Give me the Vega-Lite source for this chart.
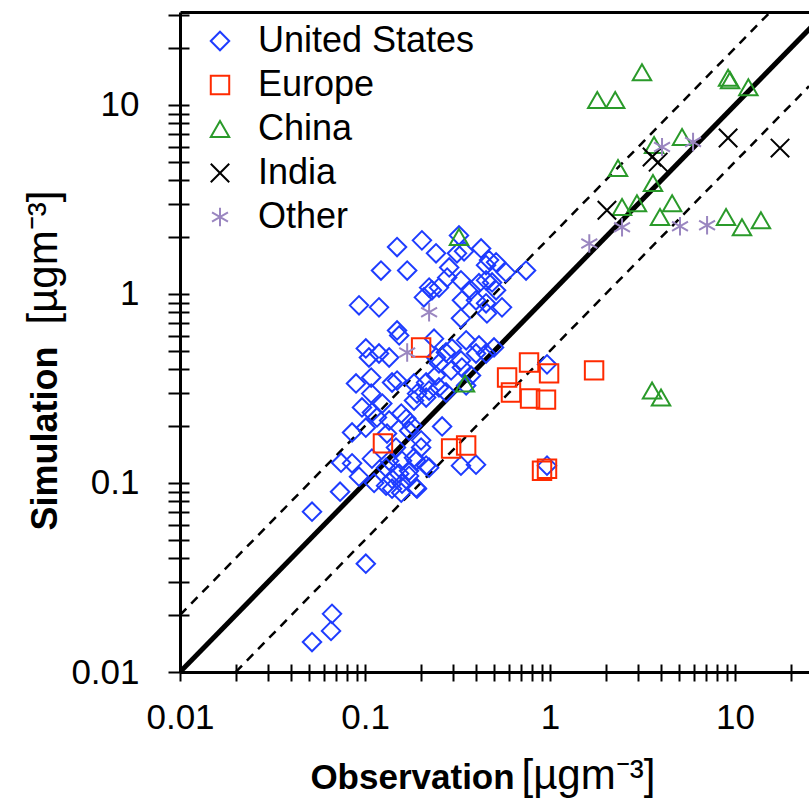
{
  "$schema": "https://vega.github.io/schema/vega-lite/v6.json",
  "autosize": "none",
  "padding": {"left": 180, "top": 12, "right": 0, "bottom": 127},
  "width": 629,
  "height": 660,
  "background": "white",
  "config": {
    "view": {"stroke": null},
    "axis": {"grid": false, "domainColor": "black", "tickColor": "black", "labelColor": "black", "titleColor": "black", "labelFont": "Liberation Sans", "titleFont": "Liberation Sans", "domainWidth": 3, "tickWidth": 2},
    "legend": {"labelFont": "Liberation Sans", "labelColor": "black"}
  },
  "datasets": {
    "points": [
      {"region": "United States", "observation": 0.0517, "simulation": 0.0705},
      {"region": "United States", "observation": 0.101, "simulation": 0.0374},
      {"region": "United States", "observation": 0.0663, "simulation": 0.0203},
      {"region": "United States", "observation": 0.0655, "simulation": 0.0165},
      {"region": "United States", "observation": 0.0517, "simulation": 0.0144},
      {"region": "United States", "observation": 0.0742, "simulation": 0.128},
      {"region": "United States", "observation": 0.0851, "simulation": 0.127},
      {"region": "United States", "observation": 0.0928, "simulation": 0.108},
      {"region": "United States", "observation": 0.0733, "simulation": 0.0899},
      {"region": "United States", "observation": 0.112, "simulation": 0.100},
      {"region": "United States", "observation": 0.109, "simulation": 0.1345},
      {"region": "United States", "observation": 0.130, "simulation": 0.0968},
      {"region": "United States", "observation": 0.140, "simulation": 0.0933},
      {"region": "United States", "observation": 0.1585, "simulation": 0.0991},
      {"region": "United States", "observation": 0.189, "simulation": 0.0944},
      {"region": "United States", "observation": 0.153, "simulation": 0.112},
      {"region": "United States", "observation": 0.173, "simulation": 0.116},
      {"region": "United States", "observation": 0.189, "simulation": 0.131},
      {"region": "United States", "observation": 0.214, "simulation": 0.1235},
      {"region": "United States", "observation": 0.1585, "simulation": 0.131},
      {"region": "United States", "observation": 0.135, "simulation": 0.131},
      {"region": "United States", "observation": 0.201, "simulation": 0.154},
      {"region": "United States", "observation": 0.330, "simulation": 0.1235},
      {"region": "United States", "observation": 0.398, "simulation": 0.125},
      {"region": "United States", "observation": 0.147, "simulation": 0.154},
      {"region": "United States", "observation": 0.0894, "simulation": 0.336},
      {"region": "United States", "observation": 0.108, "simulation": 0.361},
      {"region": "United States", "observation": 0.108, "simulation": 0.297},
      {"region": "United States", "observation": 0.140, "simulation": 0.340},
      {"region": "United States", "observation": 0.149, "simulation": 0.348},
      {"region": "United States", "observation": 0.184, "simulation": 0.336},
      {"region": "United States", "observation": 0.214, "simulation": 0.340},
      {"region": "United States", "observation": 0.242, "simulation": 0.370},
      {"region": "United States", "observation": 0.292, "simulation": 0.394},
      {"region": "United States", "observation": 0.334, "simulation": 0.408},
      {"region": "United States", "observation": 0.374, "simulation": 0.370},
      {"region": "United States", "observation": 0.0963, "simulation": 0.251},
      {"region": "United States", "observation": 0.109, "simulation": 0.236},
      {"region": "United States", "observation": 0.124, "simulation": 0.263},
      {"region": "United States", "observation": 0.116, "simulation": 0.222},
      {"region": "United States", "observation": 0.135, "simulation": 0.214},
      {"region": "United States", "observation": 0.157, "simulation": 0.233},
      {"region": "United States", "observation": 0.167, "simulation": 0.219},
      {"region": "United States", "observation": 0.180, "simulation": 0.201},
      {"region": "United States", "observation": 0.173, "simulation": 0.189},
      {"region": "United States", "observation": 0.191, "simulation": 0.297},
      {"region": "United States", "observation": 0.214, "simulation": 0.283},
      {"region": "United States", "observation": 0.184, "simulation": 0.273},
      {"region": "United States", "observation": 0.222, "simulation": 0.308},
      {"region": "United States", "observation": 0.251, "simulation": 0.320},
      {"region": "United States", "observation": 0.274, "simulation": 0.301},
      {"region": "United States", "observation": 0.352, "simulation": 0.328},
      {"region": "United States", "observation": 0.0851, "simulation": 0.185},
      {"region": "United States", "observation": 0.101, "simulation": 0.196},
      {"region": "United States", "observation": 0.1315, "simulation": 0.1825},
      {"region": "United States", "observation": 0.201, "simulation": 0.168},
      {"region": "United States", "observation": 0.261, "simulation": 0.199},
      {"region": "United States", "observation": 0.130, "simulation": 0.1205},
      {"region": "United States", "observation": 0.184, "simulation": 0.136},
      {"region": "United States", "observation": 0.222, "simulation": 0.1205},
      {"region": "United States", "observation": 0.140, "simulation": 0.105},
      {"region": "United States", "observation": 0.157, "simulation": 0.0888},
      {"region": "United States", "observation": 0.173, "simulation": 0.109},
      {"region": "United States", "observation": 0.191, "simulation": 0.0933},
      {"region": "United States", "observation": 0.149, "simulation": 1.77},
      {"region": "United States", "observation": 0.203, "simulation": 1.92},
      {"region": "United States", "observation": 0.242, "simulation": 1.64},
      {"region": "United States", "observation": 0.122, "simulation": 1.33},
      {"region": "United States", "observation": 0.169, "simulation": 1.33},
      {"region": "United States", "observation": 0.0928, "simulation": 0.870},
      {"region": "United States", "observation": 0.119, "simulation": 0.849},
      {"region": "United States", "observation": 0.322, "simulation": 2.04},
      {"region": "United States", "observation": 0.343, "simulation": 1.68},
      {"region": "United States", "observation": 0.314, "simulation": 1.64},
      {"region": "United States", "observation": 0.424, "simulation": 1.74},
      {"region": "United States", "observation": 0.468, "simulation": 1.51},
      {"region": "United States", "observation": 0.511, "simulation": 1.47},
      {"region": "United States", "observation": 0.451, "simulation": 1.42},
      {"region": "United States", "observation": 0.285, "simulation": 1.38},
      {"region": "United States", "observation": 0.278, "simulation": 1.22},
      {"region": "United States", "observation": 0.330, "simulation": 1.18},
      {"region": "United States", "observation": 0.374, "simulation": 1.045},
      {"region": "United States", "observation": 0.413, "simulation": 1.14},
      {"region": "United States", "observation": 0.451, "simulation": 1.18},
      {"region": "United States", "observation": 0.486, "simulation": 1.15},
      {"region": "United States", "observation": 0.511, "simulation": 1.045},
      {"region": "United States", "observation": 0.578, "simulation": 1.30},
      {"region": "United States", "observation": 0.742, "simulation": 1.33},
      {"region": "United States", "observation": 0.222, "simulation": 1.08},
      {"region": "United States", "observation": 0.230, "simulation": 1.045},
      {"region": "United States", "observation": 0.208, "simulation": 0.959},
      {"region": "United States", "observation": 0.251, "simulation": 1.08},
      {"region": "United States", "observation": 0.398, "simulation": 0.925},
      {"region": "United States", "observation": 0.451, "simulation": 0.892},
      {"region": "United States", "observation": 0.456, "simulation": 0.789},
      {"region": "United States", "observation": 0.550, "simulation": 0.849},
      {"region": "United States", "observation": 0.330, "simulation": 0.743},
      {"region": "United States", "observation": 0.334, "simulation": 0.925},
      {"region": "United States", "observation": 0.149, "simulation": 0.641},
      {"region": "United States", "observation": 0.153, "simulation": 0.603},
      {"region": "United States", "observation": 0.101, "simulation": 0.515},
      {"region": "United States", "observation": 0.119, "simulation": 0.484},
      {"region": "United States", "observation": 0.135, "simulation": 0.461},
      {"region": "United States", "observation": 0.105, "simulation": 0.461},
      {"region": "United States", "observation": 0.242, "simulation": 0.461},
      {"region": "United States", "observation": 0.274, "simulation": 0.490},
      {"region": "United States", "observation": 0.295, "simulation": 0.515},
      {"region": "United States", "observation": 0.352, "simulation": 0.568},
      {"region": "United States", "observation": 0.413, "simulation": 0.534},
      {"region": "United States", "observation": 0.498, "simulation": 0.521},
      {"region": "United States", "observation": 0.251, "simulation": 0.429},
      {"region": "United States", "observation": 0.330, "simulation": 0.445},
      {"region": "United States", "observation": 0.451, "simulation": 0.484},
      {"region": "United States", "observation": 0.398, "simulation": 0.484},
      {"region": "United States", "observation": 0.236, "simulation": 0.58},
      {"region": "United States", "observation": 0.963, "simulation": 0.424},
      {"region": "United States", "observation": 0.963, "simulation": 0.1235},
      {"region": "Europe", "observation": 0.201, "simulation": 0.521},
      {"region": "Europe", "observation": 0.125, "simulation": 0.162},
      {"region": "Europe", "observation": 0.292, "simulation": 0.152},
      {"region": "Europe", "observation": 0.352, "simulation": 0.158},
      {"region": "Europe", "observation": 0.586, "simulation": 0.361},
      {"region": "Europe", "observation": 0.615, "simulation": 0.301},
      {"region": "Europe", "observation": 0.770, "simulation": 0.434},
      {"region": "Europe", "observation": 0.780, "simulation": 0.280},
      {"region": "Europe", "observation": 0.951, "simulation": 0.276},
      {"region": "Europe", "observation": 0.988, "simulation": 0.380},
      {"region": "Europe", "observation": 1.73, "simulation": 0.394},
      {"region": "Europe", "observation": 0.905, "simulation": 0.116},
      {"region": "Europe", "observation": 0.963, "simulation": 0.119},
      {"region": "China", "observation": 0.322, "simulation": 2.0},
      {"region": "China", "observation": 0.347, "simulation": 0.336},
      {"region": "China", "observation": 3.14, "simulation": 14.9},
      {"region": "China", "observation": 1.80, "simulation": 10.6},
      {"region": "China", "observation": 2.25, "simulation": 10.6},
      {"region": "China", "observation": 9.17, "simulation": 13.9},
      {"region": "China", "observation": 9.40, "simulation": 13.5},
      {"region": "China", "observation": 11.8, "simulation": 12.4},
      {"region": "China", "observation": 3.65, "simulation": 6.13},
      {"region": "China", "observation": 5.17, "simulation": 6.76},
      {"region": "China", "observation": 2.33, "simulation": 4.63},
      {"region": "China", "observation": 3.60, "simulation": 3.86},
      {"region": "China", "observation": 2.45, "simulation": 2.88},
      {"region": "China", "observation": 2.95, "simulation": 3.02},
      {"region": "China", "observation": 4.57, "simulation": 3.02},
      {"region": "China", "observation": 3.93, "simulation": 2.55},
      {"region": "China", "observation": 8.94, "simulation": 2.55},
      {"region": "China", "observation": 10.9, "simulation": 2.25},
      {"region": "China", "observation": 13.8, "simulation": 2.45},
      {"region": "China", "observation": 3.56, "simulation": 0.308},
      {"region": "China", "observation": 3.98, "simulation": 0.283},
      {"region": "India", "observation": 9.17, "simulation": 6.68},
      {"region": "India", "observation": 17.5, "simulation": 5.91},
      {"region": "India", "observation": 3.56, "simulation": 5.30},
      {"region": "India", "observation": 3.84, "simulation": 4.98},
      {"region": "India", "observation": 2.03, "simulation": 2.77},
      {"region": "Other", "observation": 4.03, "simulation": 5.98},
      {"region": "Other", "observation": 5.93, "simulation": 6.36},
      {"region": "Other", "observation": 2.45, "simulation": 2.25},
      {"region": "Other", "observation": 5.04, "simulation": 2.28},
      {"region": "Other", "observation": 7.06, "simulation": 2.31},
      {"region": "Other", "observation": 1.63, "simulation": 1.85},
      {"region": "Other", "observation": 0.222, "simulation": 0.80},
      {"region": "Other", "observation": 0.169, "simulation": 0.49}
    ],
    "solid": [
      {"kind": "1:1", "observation": 0.01, "simulation": 0.01},
      {"kind": "1:1", "observation": 31, "simulation": 31}
    ],
    "dashed": [
      {"kind": "2:1", "observation": 0.01, "simulation": 0.02},
      {"kind": "2:1", "observation": 25.1, "simulation": 50.2},
      {"kind": "1:2", "observation": 0.02, "simulation": 0.01},
      {"kind": "1:2", "observation": 25.1, "simulation": 12.55}
    ]
  },
  "layer": [
    {
      "data": {"name": "solid"},
      "mark": {"type": "line", "color": "black", "strokeWidth": 5, "clip": true},
      "encoding": {
        "x": {
          "field": "observation", "type": "quantitative",
          "scale": {"type": "log", "domain": [0.01, 25.1], "nice": false, "zero": false},
          "axis": {
            "orient": "bottom",
            "values": [0.01,0.02,0.03,0.04,0.05,0.06,0.07,0.08,0.09,0.1,0.2,0.3,0.4,0.5,0.6,0.7,0.8,0.9,1,2,3,4,5,6,7,8,9,10,20],
            "tickSize": 9, "format": "~g",
            "labelExpr": "indexof([0.01,0.1,1,10], datum.value) >= 0 ? datum.label : ''",
            "labelFontSize": 35, "labelPadding": 19, "labelFlush": false, "labelOverlap": false,
            "title": "Observation", "titleFontWeight": "bold", "titleFontSize": 35,
            "titleX": 232, "titleY": 116, "titleBaseline": "alphabetic", "titleAlign": "center"
          }
        },
        "y": {
          "field": "simulation", "type": "quantitative",
          "scale": {"type": "log", "domain": [0.01, 31], "nice": false, "zero": false},
          "axis": {
            "orient": "left",
            "values": [0.01,0.02,0.03,0.04,0.05,0.06,0.07,0.08,0.09,0.1,0.2,0.3,0.4,0.5,0.6,0.7,0.8,0.9,1,2,3,4,5,6,7,8,9,10,20,30],
            "tickSize": 12, "format": "~g",
            "labelExpr": "indexof([0.01,0.1,1,10], datum.value) >= 0 ? datum.label : ''",
            "labelFontSize": 35, "labelPadding": 29, "labelFlush": false, "labelOverlap": false,
            "title": "Simulation", "titleFontWeight": "bold", "titleFontSize": 36,
            "titleX": -124, "titleY": 426, "titleAngle": 270, "titleBaseline": "alphabetic", "titleAlign": "center"
          }
        }
      }
    },
    {
      "data": {"name": "dashed"},
      "mark": {"type": "line", "color": "black", "strokeWidth": 2.5, "strokeDash": [9, 7], "clip": true},
      "encoding": {
        "detail": {"field": "kind", "type": "nominal"},
        "x": {
          "field": "observation", "type": "quantitative",
          "scale": {"type": "log", "domain": [0.01, 25.1], "nice": false, "zero": false},
          "axis": {
            "orient": "bottom",
            "values": [0.01,0.02,0.03,0.04,0.05,0.06,0.07,0.08,0.09,0.1,0.2,0.3,0.4,0.5,0.6,0.7,0.8,0.9,1,2,3,4,5,6,7,8,9,10,20],
            "tickSize": -8, "labels": false, "domain": false,
            "title": "[µgm⁻³]", "titleFontWeight": "normal", "titleFontSize": 42,
            "titleX": 341, "titleY": 116, "titleBaseline": "alphabetic", "titleAlign": "left"
          }
        },
        "y": {
          "field": "simulation", "type": "quantitative",
          "scale": {"type": "log", "domain": [0.01, 31], "nice": false, "zero": false},
          "axis": {
            "orient": "left",
            "values": [0.01,0.02,0.03,0.04,0.05,0.06,0.07,0.08,0.09,0.1,0.2,0.3,0.4,0.5,0.6,0.7,0.8,0.9,1,2,3,4,5,6,7,8,9,10,20,30],
            "tickSize": -9, "labels": false, "domain": false,
            "title": "[µgm⁻³]", "titleFontWeight": "normal", "titleFontSize": 42,
            "titleX": -124, "titleY": 312, "titleAngle": 270, "titleBaseline": "alphabetic", "titleAlign": "left"
          }
        }
      }
    },
    {
      "data": {"name": "points"},
      "mark": {"type": "point", "filled": false, "strokeWidth": 2, "opacity": 1},
      "encoding": {
        "x": {
          "field": "observation", "type": "quantitative",
          "scale": {"type": "log", "domain": [0.01, 25.1], "nice": false, "zero": false},
          "axis": {"orient": "top", "ticks": false, "labels": false, "domain": true, "domainWidth": 3, "title": null}
        },
        "y": {
          "field": "simulation", "type": "quantitative",
          "scale": {"type": "log", "domain": [0.01, 31], "nice": false, "zero": false},
          "axis": null
        },
        "stroke": {
          "field": "region", "type": "nominal",
          "scale": {"domain": ["United States", "Europe", "China", "India", "Other"], "range": ["#1e3cff", "#ff2a00", "#2a9a2a", "#000000", "#9a86c0"]},
          "legend": {"orient": "none", "legendX": 22, "legendY": 11, "title": null, "labelFontSize": 36, "labelLimit": 500, "symbolStrokeWidth": 2, "rowPadding": 8, "labelOffset": 20, "padding": 0}
        },
        "shape": {
          "field": "region", "type": "nominal",
          "scale": {"domain": ["United States", "Europe", "China", "India", "Other"], "range": ["diamond", "square", "triangle-up", "M-1,-1L1,1M-1,1L1,-1", "M0,-1L0,1M-0.866,-0.5L0.866,0.5M-0.866,0.5L0.866,-0.5"]},
          "legend": {"orient": "none", "legendX": 22, "legendY": 11, "title": null, "labelFontSize": 36, "labelLimit": 500, "symbolStrokeWidth": 2, "rowPadding": 8, "labelOffset": 20, "padding": 0}
        },
        "size": {
          "field": "region", "type": "nominal",
          "scale": {"domain": ["United States", "Europe", "China", "India", "Other"], "range": [340, 340, 380, 280, 440]},
          "legend": {"orient": "none", "legendX": 22, "legendY": 11, "title": null, "labelFontSize": 36, "labelLimit": 500, "symbolStrokeWidth": 2, "rowPadding": 8, "labelOffset": 20, "padding": 0}
        }
      }
    }
  ],
  "resolve": {"axis": {"x": "independent", "y": "independent"}}
}
